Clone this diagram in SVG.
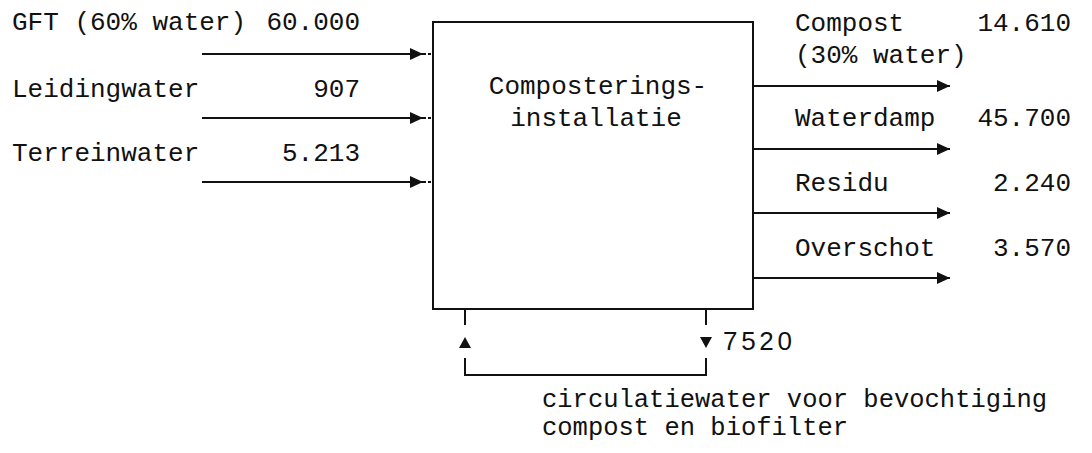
<svg xmlns="http://www.w3.org/2000/svg" width="1092" height="453" viewBox="0 0 1092 453">
<defs>
<style>
.t{font-family:"Liberation Mono","DejaVu Sans Mono",monospace;font-size:26px;fill:#111}
.s{font-size:25.5px}
.e{text-anchor:end}
.ln{stroke:#111;stroke-width:2;fill:none}
.hd{fill:#111}
</style>
<marker id="ah" markerWidth="13" markerHeight="12" refX="13" refY="6" orient="auto" markerUnits="userSpaceOnUse">
<path d="M0,0 L13,6 L0,12 Z" fill="#111"/>
</marker>
</defs>
<rect width="1092" height="453" fill="#fff"/>
<g id="box">
<rect x="433" y="22" width="320" height="287" class="ln"/>
<text class="t" x="598" y="94" text-anchor="middle">Composterings-</text>
<text class="t" x="596" y="126" text-anchor="middle">installatie</text>
</g>
<g id="in-gft">
<text class="t" x="12" y="30">GFT (60% water)</text>
<text class="t e" x="360" y="30">60.000</text>
</g>
<g id="in-leiding">
<text class="t" x="12" y="97">Leidingwater</text>
<text class="t e" x="360" y="97">907</text>
</g>
<g id="in-terrein">
<text class="t" x="12" y="161">Terreinwater</text>
<text class="t e" x="360" y="161">5.213</text>
</g>
<g id="out-compost">
<text class="t" x="795" y="31">Compost</text>
<text class="t e" x="1071" y="31">14.610</text>
<text class="t" x="795" y="63">(30% water)</text>
</g>
<g id="out-waterdamp">
<text class="t" x="795" y="126">Waterdamp</text>
<text class="t e" x="1071" y="126">45.700</text>
</g>
<g id="out-residu">
<text class="t" x="795" y="191">Residu</text>
<text class="t e" x="1071" y="191">2.240</text>
</g>
<g id="out-overschot">
<text class="t" x="795" y="256">Overschot</text>
<text class="t e" x="1071" y="256">3.570</text>
</g>
<g id="circulatie">
<text x="723" y="350" textLength="69" style="font-family:'Liberation Sans',sans-serif;font-size:26px;fill:#111">7520</text>
<text class="t s" x="542" y="407">circulatiewater voor bevochtiging</text>
<text class="t s" x="542" y="435">compost en biofilter</text>
</g>
<g id="connectors">
<line x1="202" y1="54" x2="423" y2="54" class="ln" marker-end="url(#ah)"/>
<line x1="202" y1="118" x2="423" y2="118" class="ln" marker-end="url(#ah)"/>
<line x1="202" y1="182" x2="423" y2="182" class="ln" marker-end="url(#ah)"/>
<line x1="423" y1="54" x2="433" y2="54" class="ln" stroke-dasharray="3,2"/>
<line x1="423" y1="118" x2="433" y2="118" class="ln" stroke-dasharray="3,2"/>
<line x1="423" y1="182" x2="433" y2="182" class="ln" stroke-dasharray="3,2"/>
<line x1="753" y1="86" x2="950" y2="86" class="ln" marker-end="url(#ah)"/>
<line x1="753" y1="149" x2="950" y2="149" class="ln" marker-end="url(#ah)"/>
<line x1="753" y1="213" x2="950" y2="213" class="ln" marker-end="url(#ah)"/>
<line x1="753" y1="278" x2="950" y2="278" class="ln" marker-end="url(#ah)"/>
<line x1="465" y1="309" x2="465" y2="325" class="ln"/>
<line x1="706" y1="309" x2="706" y2="325" class="ln"/>
<polyline points="465,358 465,375 706,375 706,358" class="ln"/>
<path d="M465,337 L471,348 L459,348 Z" class="hd"/>
<path d="M700,337 L712,337 L706,348 Z" class="hd"/>
</g>
</svg>
